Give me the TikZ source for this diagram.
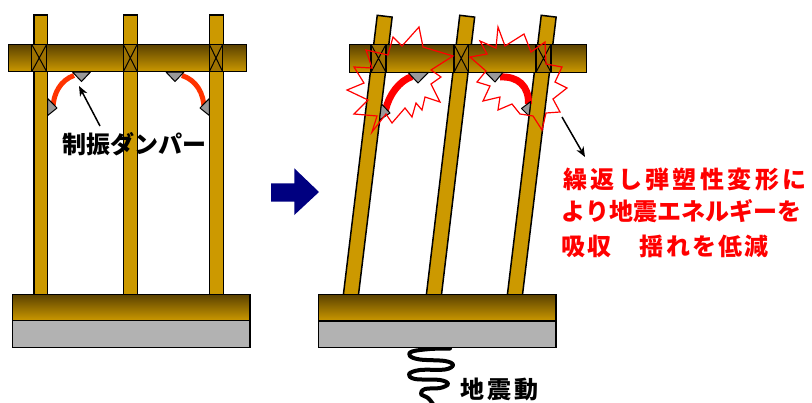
\documentclass[tikz,border=0pt]{standalone}
\usepackage{fontspec}
\newfontfamily\jpfont{Noto Sans CJK JP}
\usetikzlibrary{arrows.meta}
\definecolor{wood}{HTML}{CC9900}
\definecolor{wooddark}{HTML}{5A4100}
\definecolor{jointfill}{HTML}{9E7200}
\definecolor{basegray}{HTML}{B2B2B2}
\definecolor{plategray}{HTML}{999999}
\definecolor{damperorange}{HTML}{FF3300}
\definecolor{navyarrow}{HTML}{000080}
% set a string with a fixed advance per character
\ExplSyntaxOn
\NewDocumentCommand\spacedchars{m m}{\tl_map_inline:nn {#2}{\makebox[#1][c]{##1}}}
\ExplSyntaxOff
\begin{document}
\begin{tikzpicture}[x=1pt,y=-1pt,
  outl/.style={draw=black,line width=1.5pt,line join=miter},
  member/.style={outl,fill=wood},
  beam/.style={outl,top color=wooddark,middle color=wood!80!wooddark,bottom color=wood},
  joint/.style={outl,fill=jointfill},
  plate/.style={draw=black,line width=1pt,fill=plategray,line join=round},
  basepad/.style={outl,fill=basegray},
  burst/.style={draw=red,line width=1.2pt,line join=miter},
  damperL/.style={draw=damperorange,line width=5pt},
  damperR/.style={draw=red,line width=7pt},
  pointer/.style={draw=black,line width=1.5pt,-{Stealth[length=10pt,width=8pt,inset=3pt]}},
  lbl/.style={inner sep=0pt,font=\jpfont\bfseries\fontsize{24}{24}\selectfont},
  redlbl/.style={lbl,text=red}]
\useasboundingbox (0,0) rectangle (812,402);

% ---------------- frame at rest ----------------
\draw[member] (34,15) rectangle (47.7,300);
\draw[member] (123.3,15) rectangle (137.3,300);
\draw[member] (209.3,15) rectangle (223.3,300);
\draw[beam] (8.3,44.3) rectangle (246.7,71.7);
\foreach \a/\b in {31.7/46.7,123.3/137.3,209.3/222.7}{
  \draw[joint] (\a,44.3) rectangle (\b,71.7);
  \draw[line width=1pt] (\a,44.3) -- (\b,71.7) (\b,44.3) -- (\a,71.7);
}
% dampers
\draw[damperL] (74,75.5) .. controls (61,80) and (53,93) .. (53,109);
\draw[damperL] (182,75.5) .. controls (196,80) and (204,93) .. (204,109);
\draw[plate] (72.5,72) -- (90.5,72) -- (81.5,81.5) -- cycle;
\draw[plate] (166,72) -- (184,72) -- (175,81.5) -- cycle;
\draw[plate] (47.7,98.5) -- (57,108) -- (47.7,115.5) -- cycle;
\draw[plate] (209.3,98.5) -- (200,108) -- (209.3,115.5) -- cycle;
% foundation
\draw[beam] (12.3,294.3) rectangle (250,320.7);
\draw[basepad] (12.3,320.7) rectangle (250,347.7);

\node[lbl] (lblDamper) at (134.5,144) {制振ダンパー};
\coordinate (tailA) at (100,126);
\coordinate (tipA) at (79,86);
\draw[pointer] (tailA) -- (tipA);

% ---------------- transition arrow ----------------
\fill[navyarrow] (271,183.3) -- (294.3,183.3) -- (294.3,168.3) -- (319,192) -- (294.3,215) -- (294.3,201.7) -- (271,201.7) -- cycle;

% ---------------- frame during shaking ----------------
\draw[member] (377.25,15.3) -- (392.15,17.1) -- (357.75,300.9) -- (342.85,299.1) -- cycle;
\draw[member] (459.75,15.3) -- (474.65,17.1) -- (440.75,300.9) -- (425.85,299.1) -- cycle;
\draw[member] (541.25,15.3) -- (556.15,17.1) -- (521.75,300.9) -- (506.85,299.1) -- cycle;
\draw[beam] (349.3,44.3) rectangle (586.7,72.3);
\foreach \a/\b in {371/386,454/468.5,536/551}{
  \draw[joint] (\a,44.3) rectangle (\b,72.3);
  \draw[line width=1pt] (\a,44.3) -- (\b,72.3) (\b,44.3) -- (\a,72.3);
}
% yielded dampers
\draw[damperR] (412,76.5) .. controls (399,81) and (389,95) .. (385.5,110);
\draw[damperR] (500,77) .. controls (518,76) and (529,86) .. (528.5,104);
\draw[plate] (408,72.3) -- (428.5,72.3) -- (418,83) -- cycle;
\draw[plate] (485.5,72.3) -- (503,72.3) -- (495,82) -- cycle;
\draw[plate] (381.5,104) -- (390,113) -- (379.5,120) -- cycle;
\draw[plate] (530.7,101.5) -- (521.5,108.5) -- (529,116) -- cycle;
% energy release bursts
\draw[burst] (419,27) -- (423,47) -- (453,56) -- (431,70) -- (441,77) -- (431,84)
  -- (440,102) -- (425,97) -- (422,110) -- (416,103) -- (412,117) -- (405,108)
  -- (392,123) -- (386,114) -- (372,132) -- (377,116) -- (354,114) -- (368,100)
  -- (347,90) -- (364,83) -- (354,67) -- (372,68) -- (366,50) -- (388,55)
  -- (393,37) -- (402,46) -- cycle;
\draw[burst] (498,27) -- (505,46) -- (524,34) -- (531,52) -- (545,42) -- (546,64)
  -- (562,67) -- (555,82) -- (567,88) -- (553,99) -- (560,112) -- (546,113)
  -- (542,130) -- (533,116) -- (520,114) -- (512,104) -- (498,110) -- (500,97)
  -- (483,101) -- (490,86) -- (477,82) -- (486,71) -- (470,57) -- (487,54)
  -- (480,41) -- (496,48) -- cycle;
% ground motion
\draw[line width=4pt,line cap=round,line join=round] plot[smooth,tension=0.6] coordinates {
  (450,348.5) (430,349) (412,351.5) (410,356) (420,359.5) (445,361) (453,365)
  (445,369.5) (420,370) (409,374) (415,379) (440,380) (448,384) (440,388)
  (425,389) (421,394) (428,398) (433,404)};
% foundation
\draw[beam] (318.3,294.3) rectangle (556,321);
\draw[basepad] (318.3,321) rectangle (556,347.7);

\node[lbl] (lblQuake) at (499.2,389.5) {\spacedchars{27pt}{地震動}};

\coordinate (tailB) at (562,117);
\coordinate (tipB) at (585,157);
\draw[pointer] (tailB) -- (tipB);

\node[redlbl] (lblLine1) at (685,179) {\spacedchars{27.4pt}{繰返し弾塑性変形に}};
\node[redlbl] (lblLine2) at (681.5,211.5) {\spacedchars{24pt}{より地震エネルギーを}};
\node[redlbl] (lblLine3) at (665,246) {\spacedchars{26.2pt}{吸収　揺れを低減}};
\end{tikzpicture}
\end{document}
